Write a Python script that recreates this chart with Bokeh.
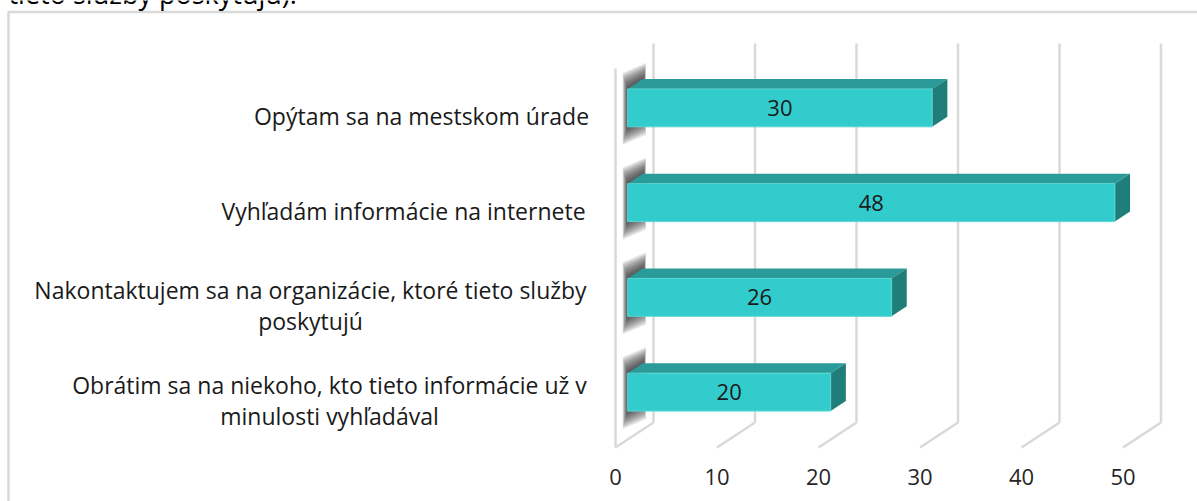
from bokeh.plotting import figure
from bokeh.models import Range1d, ColumnDataSource
from bokeh.core.properties import value
from bokeh.embed import file_html
from bokeh.resources import INLINE

# ---------------- data ----------------
categories = [
    "Obrátim sa na niekoho, kto tieto informácie už v\nminulosti vyhľadával",
    "Nakontaktujem sa na organizácie, ktoré tieto služby\nposkytujú",
    "Vyhľadám informácie na internete",
    "Opýtam sa na mestskom úrade",
]
values = [20, 26, 48, 30]
ticks = [0, 10, 20, 30, 40, 50]
caption_tail = "tieto služby poskytujú)."

# ---------------- layout ----------------
W, H = 1197, 501
PXX = 10.15      # px per value unit (front plane)
PXY = 94.75      # px per category band
X0 = 615         # canvas px of value 0 (front plane)
YF = 447         # canvas px (from top) of the floor front edge
Y0 = H - YF
DX = 38 / PXX    # full depth offset in x units
DY = 25 / PXY    # full depth offset in y units
Z0, Z1 = 0.32, 0.72
HALF = 0.2
FONT = "Open Sans"

x_start, x_end = -X0 / PXX, (W - X0) / PXX
y_start, y_end = -Y0 / PXY, (H - Y0) / PXY

p = figure(width=W, height=H, x_range=Range1d(x_start, x_end), y_range=Range1d(y_start, y_end),
           output_backend="svg", toolbar_location=None, min_border=0,
           x_axis_location=None, y_axis_location=None)
p.grid.visible = False
p.outline_line_color = None
p.background_fill_color = "white"
p.border_fill_color = "white"

GRID = "#d9d9d9"
# chart border (left + top)
bx = x_start + 8 / PXX
by = y_end - 11.5 / PXY
p.line([bx, bx, x_end], [y_start, by, by], line_color=GRID, line_width=2.5)

# tail of the caption above the chart (cut by the page edge, as in the source)
p.text(x=[x_start + 8 / PXX], y=[y_end - 11 / PXY], text=[caption_tail],
       text_align="left", text_baseline="bottom",
       text_font=value(FONT), text_font_size="27px", text_color="black")

# walls / gridlines
ncat = len(categories)
p.line([0, 0], [0, ncat], line_color=GRID, line_width=2.5)
for t in ticks:
    p.line([t + DX, t + DX], [DY, ncat + DY], line_color=GRID, line_width=2.5)
    p.line([t, t + DX], [0, DY], line_color=GRID, line_width=2.5)

dX = (Z1 - Z0) * DX
dY = (Z1 - Z0) * DY
a = Z0 * DX

# soft shadows at the left end of the bars
layers = 9
for k in range(layers, 0, -1):
    f = k / layers
    ex, et, eb = 5 * f, 16 * f, 18 * f
    xs, ys = [], []
    for i, v in enumerate(values):
        yc = i + 0.5 + Z0 * DY
        yt, yb = yc + HALF, yc - HALF
        xl = a - ex / PXX
        xr = a + dX + (1 + 2 * f) / PXX
        xs.append([xl, xr, xr, xl])
        ys.append([yt + et / PXY, yt + dY + et / PXY, yb + dY - eb / PXY, yb - eb / PXY])
    p.patches(xs, ys, fill_color="#202020", fill_alpha=0.13, line_color=None)

# bars
top_x, top_y, side_x, side_y = [], [], [], []
lefts, rights, bottoms, tops, lx, ly = [], [], [], [], [], []
for i, v in enumerate(values):
    yc = i + 0.5 + Z0 * DY
    yt, yb = yc + HALF, yc - HALF
    top_x.append([a, a + v, a + v + dX, a + dX])
    top_y.append([yt, yt, yt + dY, yt + dY])
    side_x.append([a + v, a + v + dX, a + v + dX, a + v])
    side_y.append([yb, yb + dY, yt + dY, yt])
    lefts.append(a); rights.append(a + v); bottoms.append(yb); tops.append(yt)
    lx.append(a + v / 2); ly.append(yc)

p.patches(top_x, top_y, fill_color="#2A9B98", line_color=None)
p.patches(side_x, side_y, fill_color="#1F7E7A", line_color=None)
p.quad(left=lefts, right=rights, bottom=bottoms, top=tops, fill_color="#33CCCC",
       line_color="#5AD6D3", line_width=1)

src = ColumnDataSource(dict(x=lx, y=ly, t=[str(v) for v in values]))
p.text(x="x", y="y", text="t", source=src, text_align="center", text_baseline="middle",
       text_font=value(FONT), text_font_size="22px", text_color="#1a1a1a")

# category labels (front plane, centred lines)
label_cx_px = [329, 310, 403, 421]
csrc = ColumnDataSource(dict(
    x=[(c - X0) / PXX for c in label_cx_px],
    y=[i + 0.5 for i in range(ncat)],
    t=categories))
p.text(x="x", y="y", text="t", source=csrc, text_align="center", text_baseline="middle",
       text_font=value(FONT), text_font_size="23px", text_color="#1a1a1a", text_line_height=0.97)

# value axis tick labels
tsrc = ColumnDataSource(dict(x=ticks, y=[-29 / PXY] * len(ticks), t=[str(t) for t in ticks]))
p.text(x="x", y="y", text="t", source=tsrc, text_align="center", text_baseline="middle",
       text_font=value(FONT), text_font_size="22px", text_color="#262626")

open("out.html", "w").write(file_html(p, INLINE))
